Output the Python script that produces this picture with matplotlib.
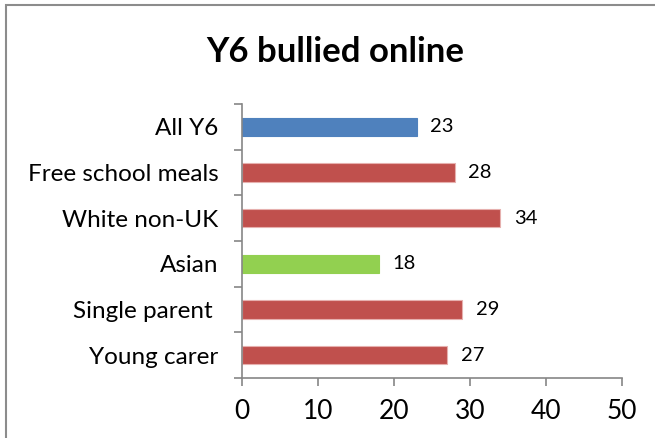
import matplotlib
matplotlib.use("Agg")
import matplotlib.pyplot as plt
from matplotlib.patches import Rectangle

plt.rcParams['font.family'] = ['Lato', 'DejaVu Sans']

categories = ["All Y6", "Free school meals", "White non-UK", "Asian", "Single parent ", "Young carer"]
values = [23, 28, 34, 18, 29, 27]
bar_colors = ["#4F81BD", "#C0504D", "#C0504D", "#92D050", "#C0504D", "#C0504D"]
edge_colors = ["#4F81BD", "#E6B0AE", "#E6B0AE", "#92D050", "#E6B0AE", "#E6B0AE"]
x_ticks = [0, 10, 20, 30, 40, 50]
title = "Y6 bullied online"

W, H = 655, 438
fig = plt.figure(figsize=(W / 100, H / 100), dpi=100)
fig.patch.set_facecolor("white")

# chart area border
fig.patches.append(Rectangle((6 / W, -0.2), 1.5, 1.2 - 5 / H,
                             transform=fig.transFigure, fill=False,
                             edgecolor="#8C8C8C", linewidth=1.5))

ax = fig.add_axes([242 / W, 1 - 378 / H, 380 / W, (378 - 104) / H])
pos = list(range(len(categories)))
ax.barh(pos, values, height=0.4, color=bar_colors, edgecolor=edge_colors, linewidth=0.8)
ax.set_ylim(len(categories) - 0.5, -0.5)
ax.set_xlim(0, 50)

for p, v in zip(pos, values):
    ax.text(v + 1.8, p, str(v), va="center", ha="left", fontsize=14.5, color="black")

for side in ("top", "right"):
    ax.spines[side].set_visible(False)
for side in ("left", "bottom"):
    ax.spines[side].set_color("#868686")
    ax.spines[side].set_linewidth(1.2)

ax.set_xticks(x_ticks)
ax.set_xticklabels([str(t) for t in x_ticks], fontsize=19)
ax.tick_params(axis="x", direction="out", length=6, width=1.2, color="#868686", pad=9)

ax.set_yticks(pos)
ax.set_yticklabels(categories, fontsize=17.5)
ax.tick_params(axis="y", which="major", length=0, pad=17)
ax.set_yticks([i - 0.5 for i in range(len(categories) + 1)], minor=True)
ax.tick_params(axis="y", which="minor", direction="out", length=6, width=1.2, color="#868686")

fig.text(335 / W, 1 - 52 / H, title, ha="center", va="center", fontsize=25, fontweight="bold")

fig.savefig("out.png", dpi=100)
